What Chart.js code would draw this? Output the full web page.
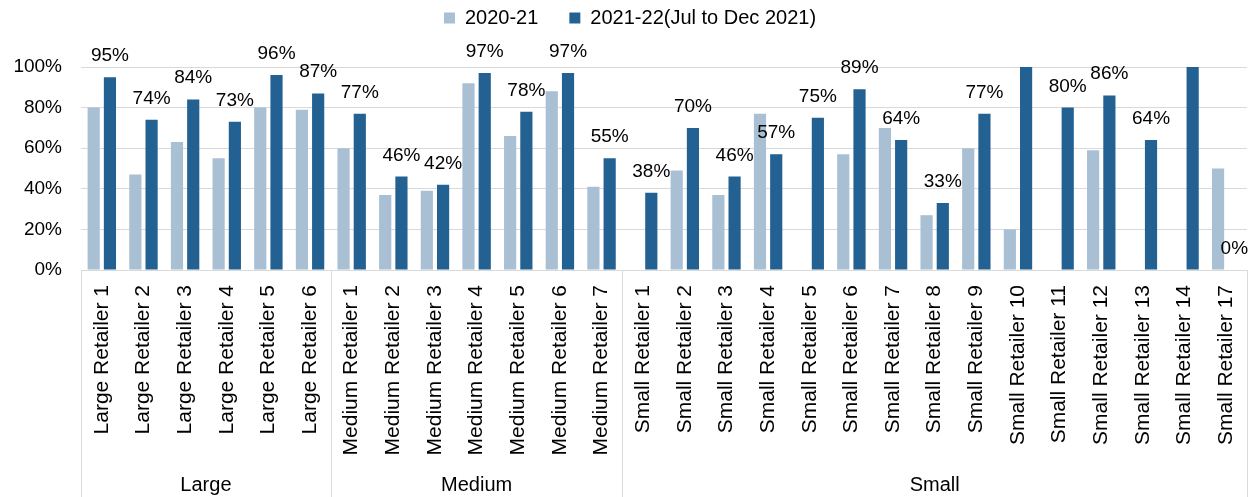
<!DOCTYPE html>
<html>
<head>
<meta charset="utf-8">
<script src="https://cdn.jsdelivr.net/npm/chart.js@4.4.1/dist/chart.umd.min.js"></script>
<style>
  html, body { margin: 0; padding: 0; background: #fff; }
</style>
</head>
<body>
<canvas id="chart" width="1255" height="497"></canvas>
<script>
const retailers = [
  'Large Retailer 1', 'Large Retailer 2', 'Large Retailer 3', 'Large Retailer 4', 'Large Retailer 5', 'Large Retailer 6',
  'Medium Retailer 1', 'Medium Retailer 2', 'Medium Retailer 3', 'Medium Retailer 4', 'Medium Retailer 5', 'Medium Retailer 6', 'Medium Retailer 7',
  'Small Retailer 1', 'Small Retailer 2', 'Small Retailer 3', 'Small Retailer 4', 'Small Retailer 5', 'Small Retailer 6', 'Small Retailer 7',
  'Small Retailer 8', 'Small Retailer 9', 'Small Retailer 10', 'Small Retailer 11', 'Small Retailer 12', 'Small Retailer 13', 'Small Retailer 14',
  'Small Retailer 17'
];
const groupNames = ['Large', 'Medium', 'Small'];
const groupSizes = [6, 7, 15];

const series2021 = [80, 47, 63, 55, 80, 79, 60, 37, 39, 92, 66, 88, 41,
  null, 49, 37, 77, null, 57, 70, 27, 60, 20, null, 59, null, null, 50];
const series2122 = [95, 74, 84, 73, 96, 87, 77, 46, 42, 97, 78, 97, 55,
  38, 70, 46, 57, 75, 89, 64, 33, 77, 100, 80, 86, 64, 100, 0];

const FONT = '"Liberation Sans", Arial, sans-serif';
const LIGHT = '#a8bfd4';
const DARK = '#236192';
const GRID = '#d9d9d9';

// percentage labels above the 2021-22 bars (Excel hides the ones at 100%)
const valueLabels = {
  id: 'valueLabels',
  afterDatasetsDraw(chart) {
    const { ctx } = chart;
    const meta = chart.getDatasetMeta(1);
    ctx.save();
    ctx.font = '19px ' + FONT;
    ctx.fillStyle = '#000';
    ctx.textAlign = 'center';
    ctx.textBaseline = 'alphabetic';
    meta.data.forEach((bar, i) => {
      const v = series2122[i];
      if (v === null || v >= 100) return;
      ctx.fillText(v + '%', bar.x, bar.y - 16);
    });
    ctx.restore();
  }
};

// second level of the category axis: group dividers + names
const groupAxis = {
  id: 'groupAxis',
  afterDraw(chart) {
    const { ctx, chartArea } = chart;
    const x = chart.scales.x;
    const edge = i => {
      if (i === 0) return chartArea.left;
      if (i >= retailers.length) return chartArea.right;
      return (x.getPixelForValue(i - 1) + x.getPixelForValue(i)) / 2;
    };
    ctx.save();
    ctx.strokeStyle = GRID;
    ctx.lineWidth = 1;
    ctx.font = '20px ' + FONT;
    ctx.fillStyle = '#000';
    ctx.textAlign = 'center';
    ctx.textBaseline = 'middle';
    let start = 0;
    groupNames.forEach((name, g) => {
      const end = start + groupSizes[g];
      const x0 = edge(start), x1 = edge(end);
      [x0, x1].forEach(px => {
        const p = Math.round(px) + 0.5;
        ctx.beginPath();
        ctx.moveTo(p, chartArea.bottom);
        ctx.lineTo(p, chart.height);
        ctx.stroke();
      });
      ctx.fillText(name, (x0 + x1) / 2, chart.height - 12);
      start = end;
    });
    ctx.restore();
  }
};

// lift the legend row up to the top edge
const legendLift = {
  id: 'legendLift',
  afterLayout(chart) {
    chart.legend.top = -23;
  }
};

new Chart(document.getElementById('chart'), {
  type: 'bar',
  data: {
    labels: retailers,
    datasets: [
      { label: '2020-21', data: series2021, backgroundColor: LIGHT },
      { label: '2021-22(Jul to Dec 2021)', data: series2122, backgroundColor: DARK }
    ]
  },
  options: {
    responsive: false,
    animation: false,
    categoryPercentage: 0.78,
    barPercentage: 0.75,
    layout: { padding: { top: 6, left: 13, right: 8, bottom: 42 } },
    plugins: {
      legend: {
        position: 'top',
        labels: {
          boxWidth: 11,
          boxHeight: 11,
          padding: 31,
          color: '#000',
          font: { family: FONT, size: 20 }
        }
      },
      tooltip: { enabled: false }
    },
    scales: {
      x: {
        grid: { display: false, drawTicks: false },
        border: { display: false },
        ticks: {
          autoSkip: false,
          maxRotation: 90,
          minRotation: 90,
          padding: 15,
          color: '#000',
          font: { family: FONT, size: 21 }
        },
        afterFit(scale) {
          // rotated labels need no side padding; keep axis band to label length
          scale.paddingLeft = 0;
          scale.paddingRight = 0;
          scale.height = 185;
        }
      },
      y: {
        min: 0,
        max: 100,
        grid: { color: GRID, drawTicks: false },
        border: { display: false },
        ticks: {
          stepSize: 20,
          padding: 19,
          color: '#000',
          font: { family: FONT, size: 19 },
          callback: v => v + '%'
        },
        afterFit(scale) {
          scale.width = 68;
        }
      }
    }
  },
  plugins: [valueLabels, groupAxis, legendLift]
});
</script>
</body>
</html>
